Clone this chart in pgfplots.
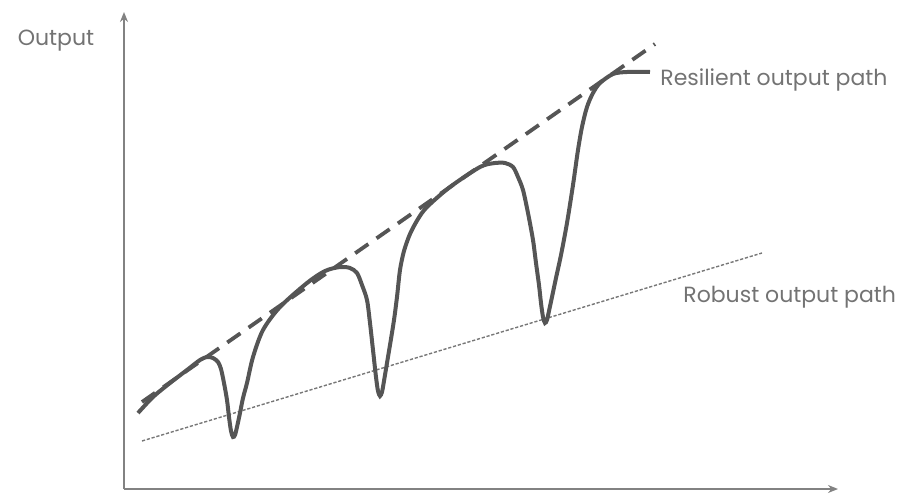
\documentclass[border=0pt]{standalone}
\usepackage{fontspec}
\setmainfont{Poppins}
\usepackage{pgfplots}
\pgfplotsset{compat=1.18}
\usetikzlibrary{arrows.meta}
\definecolor{cCurve}{RGB}{85,85,85}
\definecolor{cText}{RGB}{115,115,115}
\definecolor{cAxis}{RGB}{130,130,130}

\begin{document}
\begin{tikzpicture}
\begin{axis}[
  scale only axis, width=451pt, height=247.5pt,
  xmin=0, xmax=902, ymin=0, ymax=495,
  axis line style={draw=none}, ticks=none,
  clip=false,
]
% axes
\addplot[cAxis, line width=0.8pt, -{Stealth[length=5pt,width=4pt]}] coordinates {(124,6) (124,483)};
\addplot[cAxis, line width=0.8pt, -{Stealth[length=5pt,width=4pt]}] coordinates {(124,6) (838,6)};
% robust output path
\addplot[cCurve!80, line width=0.7pt, dash pattern=on 1.6pt off 0.9pt] coordinates {(142,54) (762,242)};
% trend (dashed)
\addplot[cCurve, line width=1.9pt, dash pattern=on 8pt off 5pt] coordinates {(142,93) (655,451)};
% resilient output path
\addplot[cCurve, line width=2pt, smooth, tension=0.5] coordinates {
  (138,82) (153,98) (170,112) (187,125) (200,135) (207,138) (213,137)
  (218,133) (221,126) (224,112) (227,95) (229,78) (231,64) (233,58) (235,60)
  (237,68) (240,82) (243,97) (247,112) (253,138) (263,165) (280,188)
  (307,212) (325,224) (340,228) (350,227) (357,222) (362,210) (367,195)
  (370,172) (373,145) (376,118) (378,104) (380,99) (382,103) (384,114)
  (387,132) (390,150) (394,175) (397,198) (400,225) (404,244) (410,261)
  (418,276) (427,288) (450,308) (480,328) (495,332) (505,332) (513,328)
  (518,318) (523,305) (528,282) (533,255) (536,232) (539,210) (541,192)
  (543,178) (545,172) (547,175) (549,184) (552,198) (556,217) (561,240)
  (567,272) (573,310) (578,345) (582,368) (587,388) (593,402) (600,412)
  (613,421) (627,423) (650,423)
};
\node[text=cText, font=\fontsize{11}{13}\selectfont, anchor=center] at (axis cs:56,454) {Output};
\node[text=cText, font=\fontsize{11}{13}\selectfont, anchor=west, inner sep=0pt] at (axis cs:660,415) {Resilient output path};
\node[text=cText, font=\fontsize{11}{13}\selectfont, anchor=west, inner sep=0pt] at (axis cs:683,198) {Robust output path};
\end{axis}
\end{tikzpicture}
\end{document}
